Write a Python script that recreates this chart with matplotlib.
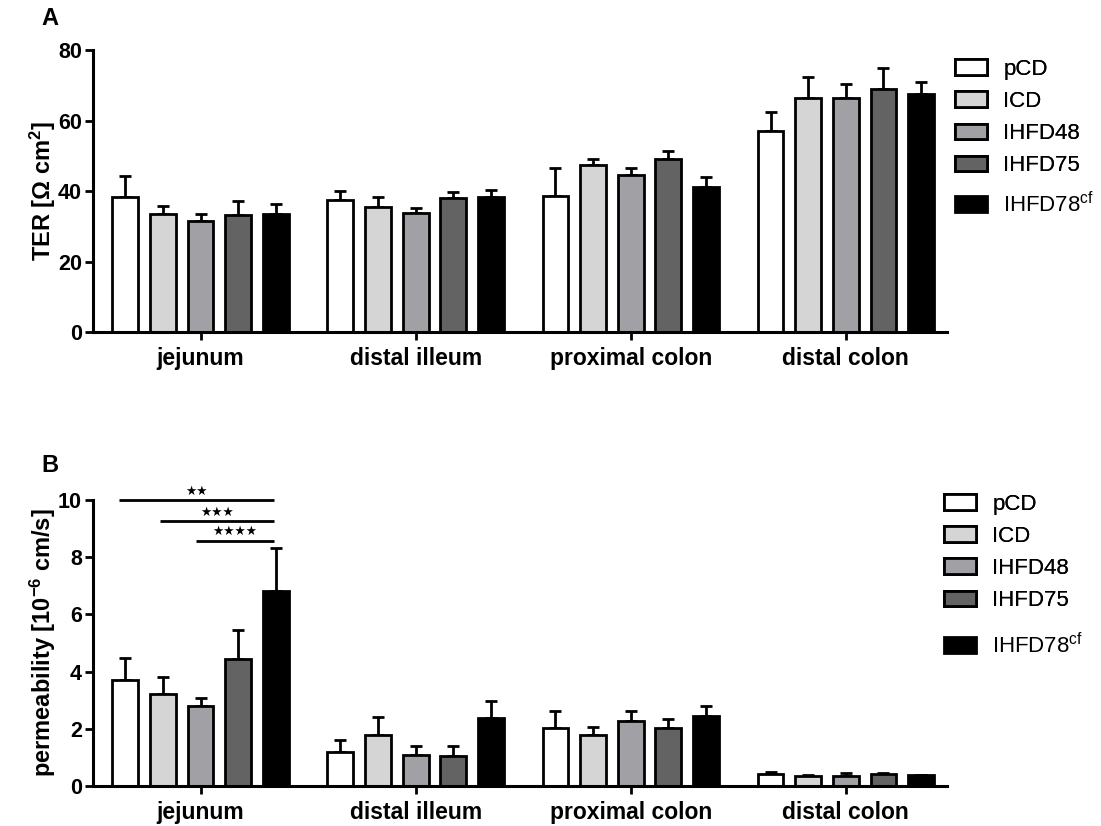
import numpy as np
import matplotlib
matplotlib.use("Agg")
import matplotlib.pyplot as plt

plt.rcParams['font.family'] = ['Liberation Sans', 'DejaVu Sans']
plt.rcParams['mathtext.default'] = 'regular'

regions = ['jejunum', 'distal illeum', 'proximal colon', 'distal colon']
diets = ['pCD', 'ICD', 'IHFD48', 'IHFD75', 'IHFD78$^{cf}$']
colors = ['#ffffff', '#d5d5d5', '#a1a1a5', '#636363', '#000000']

# TER [Ohm cm^2], rows = diets, columns = regions
ter_mean = [[38.4, 37.4, 38.7, 57.0],
            [33.6, 35.4, 47.4, 66.5],
            [31.4, 33.9, 44.6, 66.3],
            [33.3, 38.0, 49.0, 68.9],
            [33.6, 38.4, 41.1, 67.5]]
ter_err = [[5.9, 2.6, 7.9, 5.4],
           [2.2, 2.9, 1.7, 5.8],
           [2.1, 1.4, 1.8, 4.2],
           [3.9, 1.6, 2.3, 6.1],
           [2.8, 1.9, 2.9, 3.5]]

# permeability [10^-6 cm/s]
perm_mean = [[3.71, 1.20, 2.03, 0.43],
             [3.23, 1.77, 1.78, 0.35],
             [2.80, 1.08, 2.27, 0.35],
             [4.45, 1.05, 2.03, 0.42],
             [6.82, 2.36, 2.43, 0.37]]
perm_err = [[0.75, 0.40, 0.60, 0.07],
            [0.57, 0.64, 0.27, 0.02],
            [0.29, 0.32, 0.35, 0.12],
            [0.99, 0.35, 0.31, 0.02],
            [1.49, 0.62, 0.36, 0.03]]

# significance brackets in jejunum (panel B)
sig_start = [-0.38, -0.19, -0.02]
sig_end = [0.34, 0.34, 0.34]
sig_y = [10.0, 9.24, 8.57]
sig_text = ['★★', '★★★', '★★★★']

fig = plt.figure(figsize=(11.01, 8.26), dpi=100)
axA = fig.add_axes([0.0845, 0.598, 0.7755, 0.3414])
axB = fig.add_axes([0.0845, 0.0484, 0.7755, 0.3466])

pitch = 0.175
width = 0.12
x = np.arange(len(regions))


def draw(ax, means, errs, ymax, ystep, ylabel):
    bars = []
    for i in range(len(diets)):
        xs = x + (i - 2) * pitch
        m = np.array(means[i])
        e = np.array(errs[i])
        ax.errorbar(xs, m, yerr=[np.zeros_like(e), e], fmt='none', ecolor='black',
                    elinewidth=2, capsize=4.5, capthick=2, zorder=1)
        b = ax.bar(xs, m, width, color=colors[i], edgecolor='black', linewidth=2,
                   label=diets[i], zorder=2)
        bars.append(b)
    ax.set_xlim(-0.5, 3.47)
    ax.set_ylim(0, ymax)
    ax.set_yticks(np.arange(0, ymax + ystep / 2, ystep))
    ax.set_xticks(x)
    ax.set_xticklabels(regions, fontsize=16.5, fontweight='bold')
    for lab in ax.get_yticklabels():
        lab.set_fontsize(15.5)
        lab.set_fontweight('bold')
    ax.tick_params(axis='both', direction='out', length=6, width=2)
    ax.tick_params(axis='x', pad=5)
    ax.tick_params(axis='y', pad=2)
    for s in ['top', 'right']:
        ax.spines[s].set_visible(False)
    for s in ['left', 'bottom']:
        ax.spines[s].set_linewidth(2.2)
    ax.set_ylabel(ylabel, fontsize=17, fontweight='bold', labelpad=0)
    return bars


barsA = draw(axA, ter_mean, ter_err, 80, 20, 'TER [Ω cm$^{2}$]')
barsB = draw(axB, perm_mean, perm_err, 10, 2, 'permeability [10$^{-6}$ cm/s]')

for s, e, y, t in zip(sig_start, sig_end, sig_y, sig_text):
    axB.plot([s, e], [y, y], color='black', lw=2, clip_on=False, solid_capstyle='butt')
    axB.text((s + e) / 2, y + 0.08, t, ha='center', va='bottom', fontsize=9,
             family='DejaVu Sans')

leg_kw = dict(loc='upper left', frameon=False, fontsize=16, handlelength=1.45,
              handleheight=0.72, handletextpad=0.75, labelspacing=0.5,
              borderpad=0, borderaxespad=0)


def legend(bars, x0, y_top, y_last):
    l1 = fig.legend(handles=bars[:4], bbox_to_anchor=(x0, y_top), **leg_kw)
    fig.add_artist(l1)
    fig.legend(handles=bars[4:], bbox_to_anchor=(x0, y_last), **leg_kw)


legend(barsA, 0.867, 0.9286, 0.768)
legend(barsB, 0.857, 0.402, 0.234)

fig.text(0.038, 0.977, 'A', fontsize=17, fontweight='bold', va='center')
fig.text(0.038, 0.437, 'B', fontsize=17, fontweight='bold', va='center')

fig.savefig('out.png', dpi=100)
